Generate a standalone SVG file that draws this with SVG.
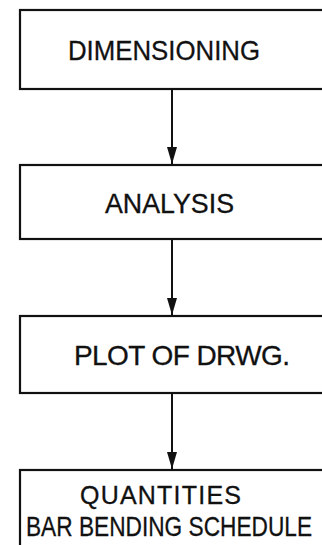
<svg xmlns="http://www.w3.org/2000/svg" width="322" height="545" viewBox="0 0 322 545">
<defs>
<style>
.box{fill:#fff;stroke:#111;stroke-width:2.2}
.lbl{font-family:"Liberation Sans",Arial,sans-serif;fill:#111;stroke:#111;stroke-width:0.3}
.con{stroke:#111;stroke-width:2;fill:none}
</style>
<marker id="ah" markerUnits="userSpaceOnUse" markerWidth="18" markerHeight="12" viewBox="0 0 18 12" refX="17" refY="6" orient="auto">
<path d="M0,1 L17,6 L0,11 Z" fill="#111"/>
</marker>
</defs>
<rect width="322" height="545" fill="#fff"/>
<g id="connectors">
<path class="con" d="M172,89 L172,164" marker-end="url(#ah)"/>
<path class="con" d="M172,239 L172,315" marker-end="url(#ah)"/>
<path class="con" d="M172,393 L172,469" marker-end="url(#ah)"/>
</g>
<g id="n1">
<rect class="box" x="20" y="10" width="320" height="79"/>
<text class="lbl" x="68" y="60" font-size="28" textLength="192" lengthAdjust="spacingAndGlyphs">DIMENSIONING</text>
</g>
<g id="n2">
<rect class="box" x="20" y="165" width="320" height="74"/>
<text class="lbl" x="105" y="213" font-size="27" textLength="129" lengthAdjust="spacingAndGlyphs">ANALYSIS</text>
</g>
<g id="n3">
<rect class="box" x="20" y="316" width="320" height="77"/>
<text class="lbl" x="74" y="365" font-size="28" textLength="216" lengthAdjust="spacing">PLOT OF DRWG.</text>
</g>
<g id="n4">
<rect class="box" x="20" y="470" width="320" height="100"/>
<text class="lbl" x="80" y="504" font-size="25" textLength="161" lengthAdjust="spacing">QUANTITIES</text>
<text class="lbl" x="26" y="536" font-size="28" textLength="286" lengthAdjust="spacingAndGlyphs">BAR BENDING SCHEDULE</text>
</g>
</svg>
